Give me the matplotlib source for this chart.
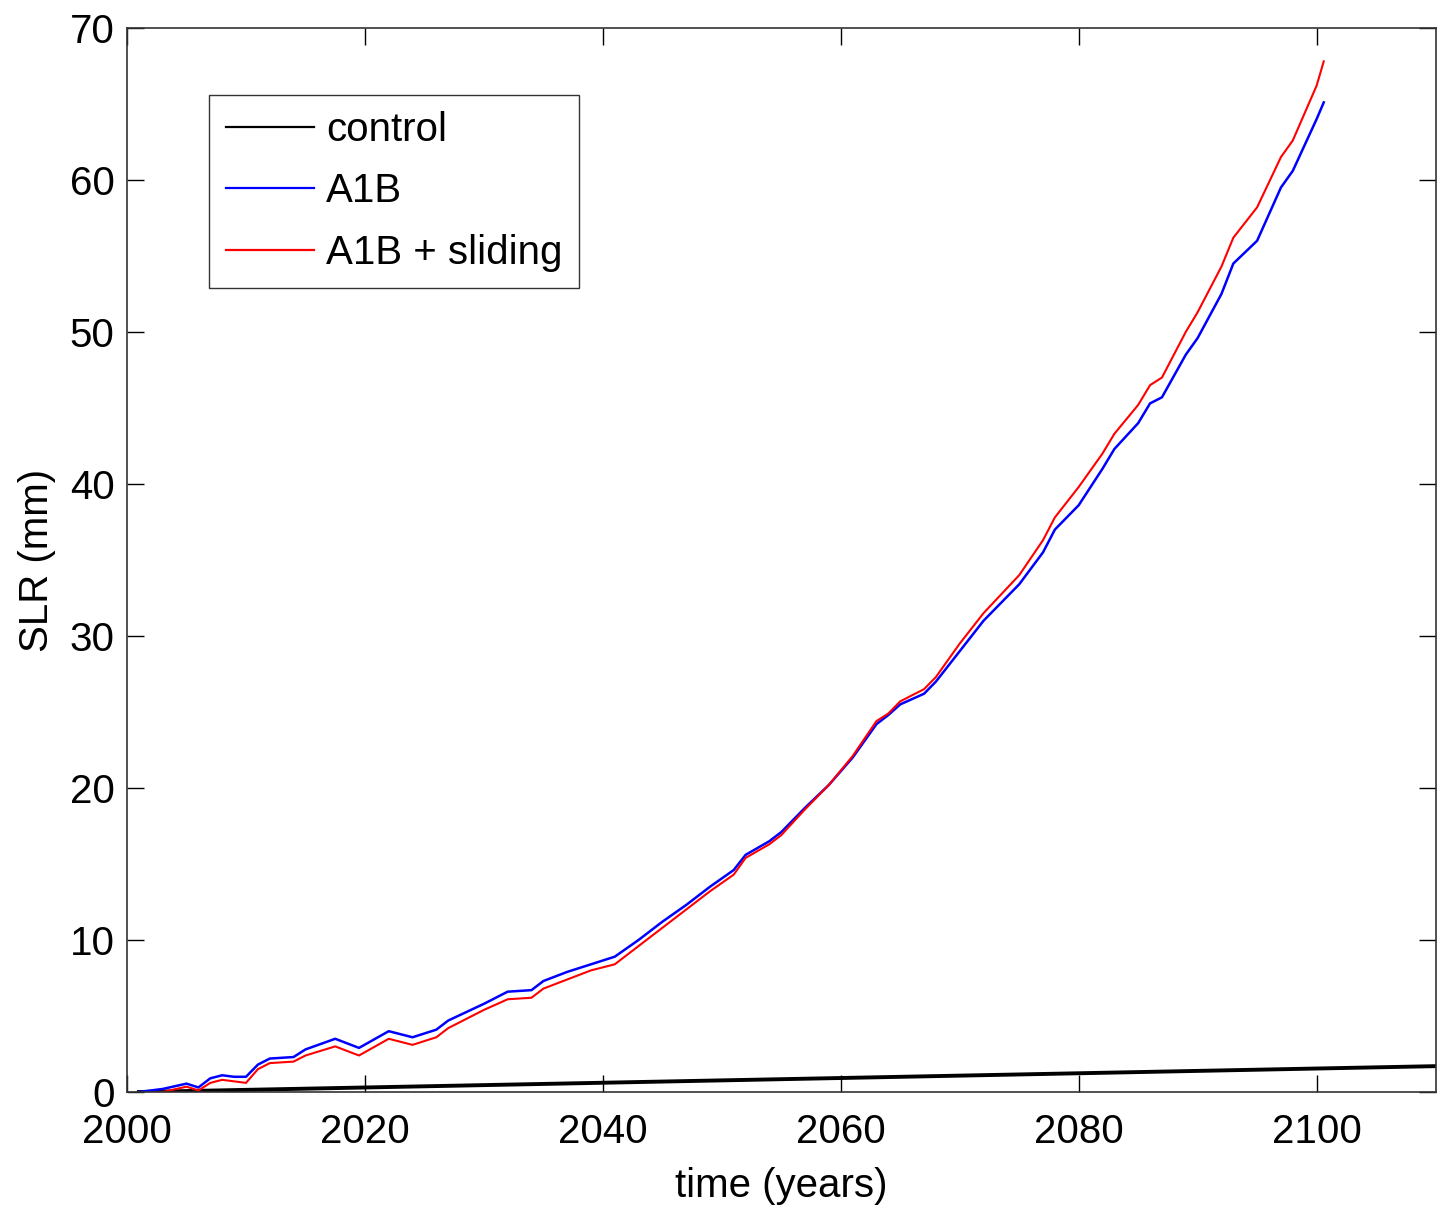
import numpy as np
import matplotlib.pyplot as plt

plt.rcParams['font.family'] = ['Liberation Sans', 'DejaVu Sans']

# control run: nearly linear drift
ctrl_year = [2001, 2110]
ctrl_slr = [0.0, 1.7]

# A1B scenario
a1b_year = [2001, 2003, 2005, 2006, 2007, 2008, 2009, 2010, 2011, 2012, 2014, 2015,
            2017.5, 2019.5, 2022, 2024, 2026, 2027, 2030, 2032, 2034, 2035, 2037, 2039,
            2041, 2043, 2045, 2047, 2049, 2051, 2052, 2054, 2055, 2057, 2059, 2061,
            2063, 2064, 2065, 2067, 2068, 2070, 2072, 2075, 2077, 2078, 2080, 2082,
            2083, 2085, 2086, 2087, 2089, 2090, 2092, 2093, 2095, 2097, 2098, 2100, 2100.6]
a1b_slr = [0.0, 0.2, 0.55, 0.3, 0.9, 1.1, 1.0, 1.0, 1.8, 2.2, 2.3, 2.8,
           3.5, 2.9, 4.0, 3.6, 4.1, 4.7, 5.8, 6.6, 6.7, 7.3, 7.9, 8.4,
           8.9, 10.0, 11.2, 12.3, 13.5, 14.6, 15.6, 16.5, 17.1, 18.7, 20.2, 22.0,
           24.2, 24.8, 25.5, 26.2, 27.0, 29.0, 31.0, 33.4, 35.5, 37.0, 38.6, 41.0,
           42.3, 44.0, 45.3, 45.7, 48.5, 49.6, 52.5, 54.5, 56.0, 59.5, 60.6, 64.0, 65.1]

# A1B with basal sliding
slide_year = a1b_year
slide_slr = [-0.1, 0.0, 0.35, 0.1, 0.6, 0.8, 0.7, 0.6, 1.5, 1.9, 2.0, 2.4,
             3.0, 2.4, 3.5, 3.1, 3.6, 4.2, 5.4, 6.1, 6.2, 6.8, 7.4, 8.0,
             8.4, 9.6, 10.8, 12.0, 13.2, 14.3, 15.4, 16.3, 16.9, 18.6, 20.2, 22.1,
             24.4, 24.9, 25.7, 26.5, 27.3, 29.5, 31.5, 34.0, 36.3, 37.8, 39.8, 42.0,
             43.3, 45.2, 46.5, 47.0, 50.0, 51.3, 54.3, 56.2, 58.2, 61.5, 62.6, 66.2, 67.8]

fig = plt.figure(figsize=(14.37, 12.14), dpi=100)
ax = fig.add_axes([0.0884, 0.1005, 0.9106, 0.8765])

ax.plot(ctrl_year, ctrl_slr, color='black', linewidth=2.8, label='control')
ax.plot(a1b_year, a1b_slr, color='blue', linewidth=1.8, label='A1B')
ax.plot(slide_year, slide_slr, color='red', linewidth=1.5, label='A1B + sliding')

ax.set_xlim(2000, 2110)
ax.set_ylim(0, 70)
ax.set_xticks(np.arange(2000, 2101, 20))
ax.set_yticks(np.arange(0, 71, 10))
ax.tick_params(direction='in', length=12, width=1, top=True, right=True,
               labelsize=29)
ax.tick_params(axis='x', pad=15)
ax.tick_params(axis='y', pad=9)
for s in ax.spines.values():
    s.set_linewidth(1.2)
    s.set_color('#333333')

ax.set_xlabel('time (years)', fontsize=29, labelpad=12)
ax.set_ylabel('SLR (mm)', fontsize=29, labelpad=10)

leg = ax.legend(loc='upper left', bbox_to_anchor=(0.063, 0.937), fontsize=29,
                frameon=True, fancybox=False, edgecolor='black',
                handlelength=2.2, handletextpad=0.3, borderpad=0.4,
                labelspacing=0.58, borderaxespad=0)
leg.get_frame().set_linewidth(1.0)
for ln in leg.get_lines():
    ln.set_linewidth(1.6)

fig.savefig('out.png', dpi=100)
